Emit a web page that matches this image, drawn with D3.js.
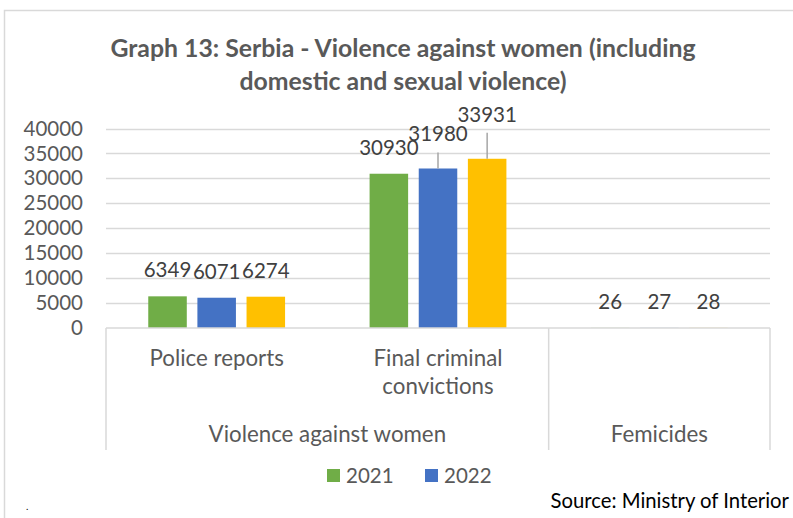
<!DOCTYPE html>
<html>
<head>
<meta charset="utf-8">
<script src="https://cdn.jsdelivr.net/npm/d3@7"></script>
<style>
  body { margin: 0; background: #fff; }
  svg { display: block; font-family: Lato, "Noto Sans", sans-serif; }
</style>
</head>
<body>
<div id="chart"></div>
<script>
// chart data
const categories = ["Police reports", "Final criminal convictions", "Femicides"];
const groups = ["Violence against women", "Violence against women", "Femicides"];
const seriesNames = ["2021", "2022", "2023"];
const legendNames = ["2021", "2022"];
const values2021 = [6349, 30930, 26];
const values2022 = [6071, 31980, 27];
const values2023 = [6274, 33931, 28];
const yTicks = [0, 5000, 10000, 15000, 20000, 25000, 30000, 35000, 40000];

const colors = { "2021": "#70ad47", "2022": "#4472c4", "2023": "#ffc000" };

// some labels got dragged up in the original, with a leader line
const labelLift = { "Final criminal convictions|2022": 8, "Final criminal convictions|2023": 18 };

const W = 793, H = 518;
const margin = { top: 128.5, right: 23, bottom: 190, left: 106 };

const svg = d3.select("#chart").append("svg")
    .attr("width", W)
    .attr("height", H);

// outer chart border
svg.append("rect")
    .attr("x", 4.5).attr("y", 10.5)
    .attr("width", W + 10).attr("height", H + 10)
    .attr("fill", "none")
    .attr("stroke", "#d9d9d9")
    .attr("stroke-width", 1.5);

// title
const title = svg.append("text")
    .attr("text-anchor", "middle")
    .attr("fill", "#595959")
    .attr("font-weight", "bold")
    .attr("font-size", "24.8px");
title.append("tspan").attr("x", 403).attr("y", 57).text("Graph 13: Serbia - Violence against women (including");
title.append("tspan").attr("x", 403).attr("y", 90).text("domestic and sexual violence)");

const x0 = d3.scaleBand()
    .domain(categories)
    .range([margin.left, W - margin.right])
    .padding(0);

const x1 = d3.scaleBand()
    .domain(seriesNames)
    .range([0, x0.bandwidth()])
    .paddingInner(0.216)
    .paddingOuter(0.86);

const y = d3.scaleLinear()
    .domain([0, 40000])
    .range([328, margin.top]);

// gridlines
svg.append("g")
    .selectAll("line")
    .data(yTicks.slice(1))
    .enter()
    .append("line")
    .attr("x1", margin.left)
    .attr("x2", W - margin.right)
    .attr("y1", d => Math.round(y(d)) + 0.5)
    .attr("y2", d => Math.round(y(d)) + 0.5)
    .attr("stroke", "#d9d9d9")
    .attr("stroke-width", 1.5);

// y axis labels
const yAxis = svg.append("g")
    .attr("transform", "translate(" + (margin.left - 6) + ",0)")
    .call(d3.axisLeft(y).tickValues(yTicks).tickSize(0).tickPadding(17).tickFormat(d3.format("d")));
yAxis.select(".domain").remove();
yAxis.selectAll("text")
    .attr("fill", "#595959")
    .attr("font-size", "20.5px")
    .attr("font-family", "Lato, 'Noto Sans', sans-serif");

// rows for bars
const rows = [];
categories.forEach((c, i) => {
    [values2021, values2022, values2023].forEach((vals, j) => {
        rows.push({ cat: c, series: seriesNames[j], value: vals[i] });
    });
});

svg.append("g")
    .selectAll("rect")
    .data(rows)
    .enter()
    .append("rect")
    .attr("x", d => x0(d.cat) + x1(d.series))
    .attr("y", d => y(d.value))
    .attr("width", x1.bandwidth())
    .attr("height", d => y(0) - y(d.value))
    .attr("fill", d => colors[d.series]);

// data labels
const labels = svg.append("g");
rows.forEach(d => {
    const cx = x0(d.cat) + x1(d.series) + x1.bandwidth() / 2;
    const lift = labelLift[d.cat + "|" + d.series] || 0;
    const base = y(d.value) - 19 - lift;
    if (lift) {
        labels.append("line")
            .attr("x1", cx).attr("x2", cx)
            .attr("y1", base + 11).attr("y2", y(d.value))
            .attr("stroke", "#a6a6a6")
            .attr("stroke-width", 1.5);
    }
    labels.append("text")
        .attr("x", cx)
        .attr("y", base)
        .attr("text-anchor", "middle")
        .attr("fill", "#404040")
        .attr("font-size", "20.5px")
        .text(d.value);
});

// category axis box
const axisG = svg.append("g")
    .attr("stroke", "#d9d9d9")
    .attr("stroke-width", 1.5);
axisG.append("line")
    .attr("x1", margin.left).attr("x2", W - margin.right)
    .attr("y1", 328).attr("y2", 328);
[margin.left, x0("Femicides"), W - margin.right].forEach(xv => {
    axisG.append("line")
        .attr("x1", xv).attr("x2", xv)
        .attr("y1", 328).attr("y2", 450);
});

// inner category labels (femicides has no inner label)
const catLabels = { "Police reports": ["Police reports"], "Final criminal convictions": ["Final criminal", "convictions"] };
Object.keys(catLabels).forEach(c => {
    const t = svg.append("text")
        .attr("text-anchor", "middle")
        .attr("fill", "#595959")
        .attr("font-size", "22.3px");
    catLabels[c].forEach((line, k) => {
        t.append("tspan")
            .attr("x", x0(c) + x0.bandwidth() / 2)
            .attr("y", 366 + k * 28)
            .text(line);
    });
});

// outer group labels
const groupNames = Array.from(new Set(groups));
groupNames.forEach(g => {
    const cats = categories.filter((c, i) => groups[i] === g);
    const left = x0(cats[0]);
    const right = x0(cats[cats.length - 1]) + x0.bandwidth();
    svg.append("text")
        .attr("x", (left + right) / 2)
        .attr("y", 442)
        .attr("text-anchor", "middle")
        .attr("fill", "#595959")
        .attr("font-size", "22.3px")
        .text(g);
});

// legend
const legend = svg.append("g").attr("transform", "translate(327,469)");
legendNames.forEach((s, i) => {
    const item = legend.append("g").attr("transform", "translate(" + (i * 98) + ",0)");
    item.append("rect")
        .attr("width", 13).attr("height", 13)
        .attr("fill", colors[s]);
    item.append("text")
        .attr("x", 19).attr("y", 13.5)
        .attr("fill", "#595959")
        .attr("font-size", "20.5px")
        .text(s);
});

// footnote
svg.append("text")
    .attr("x", 789).attr("y", 508)
    .attr("text-anchor", "end")
    .attr("fill", "#000")
    .attr("font-size", "20.3px")
    .text("Source: Ministry of Interior");
svg.append("text")
    .attr("x", 26).attr("y", 510)
    .attr("fill", "#000")
    .attr("font-size", "10px")
    .text(".");
</script>
</body>
</html>
